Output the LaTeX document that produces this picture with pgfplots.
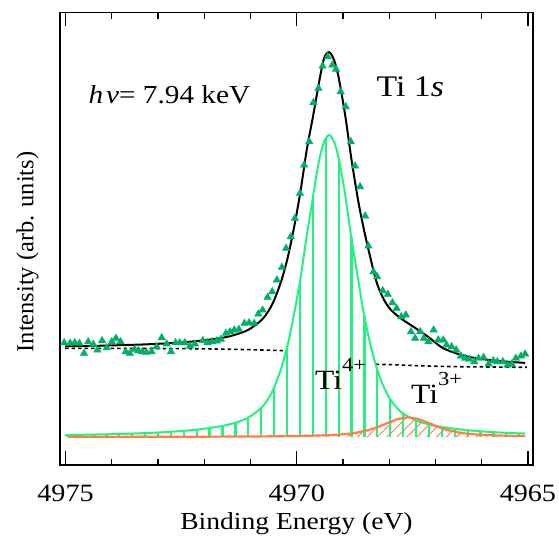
\documentclass[border=0pt]{standalone}
\usepackage{fontspec}
\setmainfont{Liberation Serif}[FakeStretch=1.13]
\newfontfamily\ylabfont{Liberation Serif}
\usepackage{pgfplots}
\usepackage{pgfplotstable}
\pgfplotsset{compat=1.18}
\usetikzlibrary{patterns.meta}
\definecolor{fitgreen}{HTML}{22F27E}
\definecolor{ptgreen}{HTML}{00B065}
\definecolor{orng}{HTML}{FF7F45}

% measured points
\pgfplotstableread{
E h
4975.03 94.3
4974.90 93.7
4974.80 94.3
4974.70 93.7
4974.60 83.7
4974.51 95.3
4974.40 92.7
4974.31 87.0
4974.21 96.3
4974.11 89.3
4974.00 95.3
4973.91 98.7
4973.81 95.3
4973.70 85.3
4973.61 83.7
4973.51 87.7
4973.43 86.3
4973.34 85.3
4973.25 84.7
4973.14 85.3
4973.03 90.3
4972.92 99.3
4972.81 93.0
4972.72 85.3
4972.62 94.3
4972.53 94.3
4972.42 94.3
4972.31 91.0
4972.20 93.0
4972.03 96.5
4971.93 94.3
4971.83 95.3
4971.73 96.0
4971.64 97.7
4971.53 103.7
4971.44 105.3
4971.35 107.0
4971.25 107.7
4971.13 113.7
4971.03 114.3
4970.92 113.7
4970.83 123.0
4970.74 127.0
4970.63 139.7
4970.53 145.3
4970.43 157.0
4970.32 169.7
4970.23 188.7
4970.13 200.3
4970.04 218.7
4969.93 243.7
4969.84 272.0
4969.73 295.3
4969.64 334.3
4969.53 348.7
4969.44 371.0
4969.33 380.3
4969.23 372.0
4969.15 367.7
4969.05 345.3
4968.94 330.3
4968.83 295.3
4968.74 271.0
4968.63 250.3
4968.52 221.0
4968.45 191.0
4968.34 165.3
4968.26 160.3
4968.14 146.3
4968.03 142.7
4967.93 134.3
4967.84 128.7
4967.74 120.3
4967.64 122.0
4967.53 105.3
4967.44 98.7
4967.33 105.3
4967.25 98.7
4967.15 95.3
4967.04 107.0
4966.94 97.0
4966.83 97.0
4966.76 92.0
4966.65 90.3
4966.55 87.0
4966.45 81.0
4966.36 78.7
4966.27 77.7
4966.16 75.3
4966.07 78.7
4965.96 79.7
4965.85 73.0
4965.75 76.3
4965.66 75.3
4965.54 75.3
4965.44 72.0
4965.35 73.0
4965.26 78.7
4965.15 81.0
4965.06 83.0
}\datatab

% total fit
\pgfplotstableread{
E h
4975.01 90.7
4974.40 91.1
4973.84 91.8
4973.28 92.6
4972.72 93.9
4972.16 95.9
4971.61 99.2
4971.33 102.3
4971.05 107.1
4970.77 116.6
4970.62 125.4
4970.49 136.6
4970.34 155.2
4970.21 176.5
4970.08 204.3
4969.93 242.4
4969.78 288.1
4969.65 320.0
4969.52 354.0
4969.41 378.5
4969.30 384.8
4969.19 376.7
4969.09 358.7
4968.95 321.2
4968.82 278.8
4968.67 236.1
4968.54 206.0
4968.39 176.0
4968.26 153.0
4968.11 137.0
4967.98 128.0
4967.83 121.5
4967.70 117.0
4967.42 108.5
4967.14 99.5
4966.86 89.5
4966.58 84.1
4966.30 80.4
4966.02 78.1
4965.75 76.6
4965.47 75.4
4965.06 74.1
}\fittab

% background
\pgfplotstableread{
E h
4975.01 88.7
4973.17 88.5
4972.09 88.2
4971.01 87.3
4970.25 86.3
4969.93 85.5
4969.60 84.0
4969.30 81.0
4969.00 77.0
4968.63 74.0
4968.26 72.7
4967.92 72.3
4967.33 71.2
4966.47 70.3
4965.02 69.7
}\bgtab

% Ti4+ component
\pgfplotstableread{
E h
4975.01 1.90
4974.68 2.17
4974.40 2.41
4974.12 2.69
4973.84 3.03
4973.56 3.43
4973.28 3.91
4973.00 4.50
4972.72 5.24
4972.44 6.17
4972.16 7.37
4971.89 8.95
4971.61 11.1
4971.33 14.2
4971.05 19.3
4970.77 29.0
4970.62 37.9
4970.49 49.3
4970.34 68.0
4970.21 89.4
4970.08 117.5
4969.93 155.9
4969.78 202.2
4969.65 239.7
4969.52 275.7
4969.41 295.0
4969.30 302.0
4969.19 295.0
4969.09 278.1
4968.95 241.6
4968.82 199.6
4968.67 157.1
4968.54 121.2
4968.39 89.4
4968.26 67.4
4968.11 49.3
4967.98 37.9
4967.83 29.0
4967.70 23.5
4967.42 16.5
4967.14 12.6
4966.86 9.99
4966.58 8.15
4966.30 6.77
4966.02 5.70
4965.75 4.87
4965.47 4.21
4965.06 3.46
}\greentab

% Ti4+ hatch lines
\pgfplotstableread{
E h
4974.96 1.96
4974.68 2.17
4974.40 2.41
4974.12 2.69
4973.84 3.03
4973.56 3.43
4973.28 3.91
4973.00 4.50
4972.72 5.24
4972.44 6.17
4972.16 7.37
4971.89 8.95
4971.61 11.1
4971.33 14.2
4971.05 19.3
4970.77 29.0
4970.49 49.3
4970.21 89.4
4969.93 155.9
4969.65 239.7
4969.37 298.8
4969.09 278.1
4968.82 199.6
4968.54 121.2
4968.26 67.4
4967.98 37.9
4967.70 23.5
4967.42 16.5
4967.14 12.6
4966.86 9.99
4966.58 8.15
4966.30 6.77
4966.02 5.70
4965.75 4.87
4965.47 4.21
4965.19 3.67
}\combtab

% Ti3+ component
\pgfplotstableread{
E h
4974.95 0.1
4973.00 0.2
4971.05 0.5
4970.19 0.9
4969.54 1.5
4969.10 2.4
4968.78 3.8
4968.46 6.8
4968.24 10.1
4968.02 14.2
4967.81 17.9
4967.59 19.5
4967.37 17.9
4967.16 14.2
4966.94 10.1
4966.72 6.8
4966.40 3.8
4966.08 2.4
4965.64 1.5
4965.06 0.9
}\orangetab

\begin{document}
\begin{tikzpicture}
\useasboundingbox (-60bp,-72bp) rectangle (499bp,465bp);
\begin{axis}[
    scale only axis, width=473bp, height=452.5bp,
    x dir=reverse, xmin=4964.89, xmax=4975.12,
    ymin=-28, ymax=424.5,
    xtick={4965,4970,4975}, xticklabels={4965,4970,4975},
    minor xtick={4966,4967,4968,4969,4971,4972,4973,4974},
    ytick=\empty,
    tick align=inside,
    major tick length=13.6bp, minor tick length=6.4bp,
    every tick/.style={black, line width=1.3bp},
    axis line style={line width=1.8bp},
    xticklabel style={font=\fontsize{25}{28}\selectfont, anchor=base, yshift=-36.6bp},
    xlabel={Binding Energy (eV)},
    xlabel style={font=\fontsize{24.5}{28}\selectfont, at={(axis description cs:0.5,-0.1425)}, anchor=base},
    ylabel={Intensity (arb. units)},
    ylabel style={font=\ylabfont\fontsize{24.5}{28}\selectfont, at={(axis description cs:-0.0687,0.4707)}, anchor=center},
  ]
  \addplot[black, line width=1.6bp, dash pattern=on 3.5bp off 3bp, smooth] table[x=E,y=h] {\bgtab};
  \addplot[draw=none, fill=white] table[x=E,y=h] {\greentab} \closedcycle;
  \addplot[draw=none, pattern={Lines[angle=45, distance=7bp, line width=0.9bp]}, pattern color=orng] table[x=E,y=h] {\orangetab} \closedcycle;
  \addplot[ycomb, fitgreen, line width=2.6bp] table[x=E,y=h] {\combtab};
  \addplot[fitgreen, line width=2bp, smooth] table[x=E,y=h] {\greentab};
  \addplot[orng, line width=2.2bp, smooth] table[x=E,y=h] {\orangetab};
  \addplot[black, line width=2bp, smooth] table[x=E,y=h] {\fittab};
  \addplot[only marks, mark=triangle*, mark size=4.3bp, ptgreen] table[x=E,y=h] {\datatab};

  \node[anchor=base west, font=\fontsize{26}{30}\selectfont] at (axis description cs:0.0529,0.799) {\textit{h\kern3bp ν}= 7.94 keV};
  \node[anchor=base west, font=\fontsize{30}{34}\selectfont] at (axis description cs:0.662,0.814) {Ti 1\textit{s}};
  \node[anchor=base west, font=\fontsize{28}{32}\selectfont] at (axis description cs:0.532,0.166) {Ti\raisebox{0.65em}{\fontsize{20}{20}\selectfont 4+}};
  \node[anchor=base west, font=\fontsize{28}{32}\selectfont] at (axis description cs:0.735,0.136) {Ti\raisebox{0.65em}{\fontsize{20}{20}\selectfont 3+}};
\end{axis}
\end{tikzpicture}
\end{document}
